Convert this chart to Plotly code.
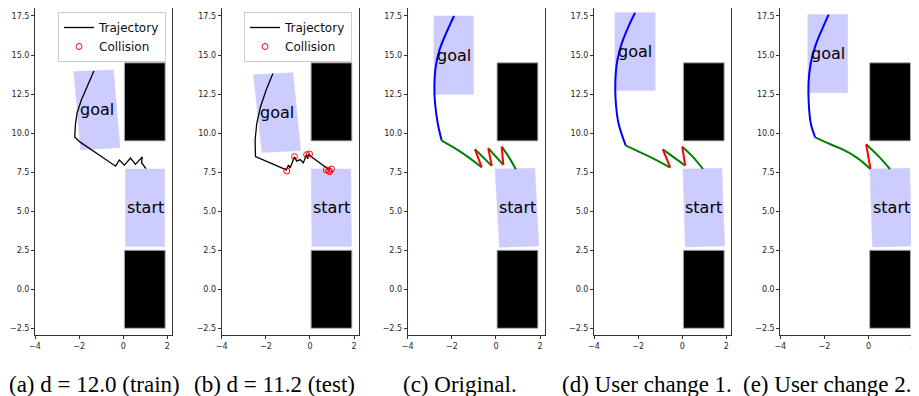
import plotly.graph_objects as go

# ---------------- data ----------------
X_TICKS = [-4, -2, 0, 2]
Y_TICKS = [-2.5, 0.0, 2.5, 5.0, 7.5, 10.0, 12.5, 15.0, 17.5]
CAPTIONS = ["(a) d = 12.0 (train)", "(b) d = 11.2 (test)", "(c) Original.",
            "(d) User change 1.", "(e) User change 2."]

# obstacles (x0, x1, y0, y1)
OBS_TOP = [0.05, 1.9, 9.5, 14.5]
OBS_BOTTOM = [0.05, 1.9, -2.5, 2.5]

# goal / start regions per panel (polygon corners)
goal_a_x = [-2.245, -0.445, -0.145, -1.93]; goal_a_y = [13.94, 14.04, 9.07, 8.92]
goal_b_x = [-2.56, -0.77, -0.42, -2.18];    goal_b_y = [13.74, 13.87, 8.88, 8.75]
goal_c_x = [-2.81, -1.02, -1.02, -2.81];    goal_c_y = [17.5, 17.5, 12.48, 12.48]
goal_d_x = [-3.05, -1.23, -1.23, -3.05];    goal_d_y = [17.71, 17.71, 12.72, 12.72]
goal_e_x = [-2.75, -0.95, -0.95, -2.75];    goal_e_y = [17.59, 17.59, 12.59, 12.59]

start_a_x = [0.1, 1.88, 1.88, 0.1];    start_a_y = [7.7, 7.7, 2.73, 2.73]
start_b_x = [0.06, 1.85, 1.88, 0.09];  start_b_y = [7.7, 7.7, 2.73, 2.73]
start_c_x = [-0.04, 1.76, 1.94, 0.16]; start_c_y = [7.7, 7.75, 2.77, 2.69]
start_d_x = [0.03, 1.80, 1.92, 0.14];  start_d_y = [7.7, 7.75, 2.77, 2.71]
start_e_x = [0.06, 1.86, 1.97, 0.18];  start_e_y = [7.7, 7.75, 2.77, 2.71]

# trajectories (a), (b)
traj_a_x = [-1.33, -1.645, -1.9, -2.095, -2.17, -2.2, -1.95, -1.075, -0.35, -0.175,
            0.05, 0.33, 0.55, 0.86, 0.83, 1.03]
traj_a_y = [13.98, 12.97, 12.12, 11.27, 10.52, 9.75, 9.42, 8.58, 7.88, 8.28,
            7.95, 8.4, 8.0, 8.47, 8.1, 7.72]
traj_b_x = [-1.68, -1.985, -2.24, -2.41, -2.485, -2.47, -1.07, -0.97, -0.9, -0.7,
            -0.6, -0.45, -0.3, -0.16, -0.1, -0.06, 0.05, 0.82, 0.7, 0.9, 0.78, 0.95]
traj_b_y = [13.81, 12.76, 11.69, 10.63, 9.56, 8.49, 7.64, 7.95, 7.76, 8.49,
            8.2, 8.3, 8.1, 8.62, 8.35, 8.66, 8.5, 7.75, 7.85, 7.62, 7.7, 7.75]
coll_b_x = [-1.05, -0.7, -0.15, -0.02, 0.74, 0.85, 0.97, 0.89]
coll_b_y = [7.57, 8.49, 8.62, 8.66, 7.64, 7.6, 7.7, 7.53]

# trajectories (c), (d), (e): blue / green / red segments
blue_c_x = [-1.9, -2.26, -2.56, -2.73, -2.79, -2.76, -2.64, -2.46]
blue_c_y = [17.5, 16.39, 15.32, 14.26, 12.97, 11.91, 10.63, 9.52]
green_c_x = [-2.46, -1.6, -0.645, None, -0.95, -0.19, None, -0.35, 0.335, None, 0.26, 0.6, 0.9]
green_c_y = [9.52, 8.8, 7.81, None, 8.96, 7.9, None, 9.03, 7.96, None, 9.13, 8.43, 7.68]
red_c_x = [-0.645, -0.95, None, -0.19, -0.35, None, 0.335, 0.26]
red_c_y = [7.81, 8.96, None, 7.9, 9.03, None, 7.96, 9.13]

blue_d_x = [-2.14, -2.44, -2.74, -2.94, -3.03, -3.02, -2.89, -2.56]
blue_d_y = [17.71, 16.82, 15.75, 14.68, 13.4, 12.12, 10.63, 9.2]
green_d_x = [-2.56, -1.53, -0.545, None, -0.88, 0.136, None, 0.0, 0.44, 0.94]
green_d_y = [9.2, 8.52, 7.79, None, 8.96, 7.92, None, 9.13, 8.54, 7.7]
red_d_x = [-0.545, -0.88, None, 0.136, 0.0]
red_d_y = [7.79, 8.96, None, 7.92, 9.13]

blue_e_x = [-1.81, -2.12, -2.42, -2.62, -2.72, -2.71, -2.62, -2.42]
blue_e_y = [17.59, 16.6, 15.54, 14.47, 13.19, 11.91, 10.63, 9.73]
green_e_x = [-2.42, -1.75, -1.13, -0.5, 0.086, None, -0.11, 0.47, 0.97]
green_e_y = [9.73, 9.3, 8.92, 8.4, 7.7, None, 9.28, 8.49, 7.7]
red_e_x = [0.086, -0.11]
red_e_y = [7.7, 9.28]

# ---------------- layout constants ----------------
# the page body has an 8px margin, so the figure starts at (8, 8) in the window
OFF = 8
W, H = 919 - OFF, 396 - OFF
LEFTS = [35 - OFF, 221.7 - OFF, 407.7 - OFF, 594 - OFF, 780.3 - OFF]
PW = 136.8
TOP, BOTTOM = 0, 335 - OFF
X_RANGE = [-4, 2.2]
Y_RANGE = [-2.93, 18.01]
CAP_CENTER = [94 - OFF, 274 - OFF, 460 - OFF, 647 - OFF, 827 - OFF]
CAP_Y = 384 - OFF

GOALS = [(goal_a_x, goal_a_y), (goal_b_x, goal_b_y), (goal_c_x, goal_c_y),
         (goal_d_x, goal_d_y), (goal_e_x, goal_e_y)]
STARTS = [(start_a_x, start_a_y), (start_b_x, start_b_y), (start_c_x, start_c_y),
          (start_d_x, start_d_y), (start_e_x, start_e_y)]

REGION_FILL = "#ccccff"
fig = go.Figure()


def ax(i):
    return ("x" if i == 0 else f"x{i+1}"), ("y" if i == 0 else f"y{i+1}")


for i in range(5):
    xr, yr = ax(i)
    for (px, py) in (GOALS[i], STARTS[i]):
        fig.add_trace(go.Scatter(x=px + [px[0]], y=py + [py[0]], mode="lines",
                                 fill="toself", fillcolor=REGION_FILL,
                                 line=dict(color=REGION_FILL, width=0.5),
                                 hoverinfo="skip", showlegend=False, xaxis=xr, yaxis=yr))
    for ob in (OBS_TOP, OBS_BOTTOM):
        fig.add_shape(type="rect", x0=ob[0], x1=ob[1], y0=ob[2], y1=ob[3],
                      xref=xr, yref=yr, fillcolor="black",
                      line=dict(color="#b0b0b0", width=1), layer="below")
    for (px, py), label in ((GOALS[i], "goal"), (STARTS[i], "start")):
        fig.add_annotation(x=sum(px) / len(px), y=sum(py) / len(py), xref=xr, yref=yr,
                           text=label, showarrow=False,
                           font=dict(family="DejaVu Sans", size=16, color="black"))

# panel (a)
fig.add_trace(go.Scatter(x=traj_a_x, y=traj_a_y, mode="lines", name="Trajectory",
                         line=dict(color="black", width=1.3), legend="legend",
                         xaxis="x", yaxis="y"))
fig.add_trace(go.Scatter(x=[None], y=[None], mode="markers", name="Collision",
                         marker=dict(symbol="circle-open", color="red", size=6,
                                     line=dict(width=1)),
                         legend="legend", xaxis="x", yaxis="y"))
# panel (b)
fig.add_trace(go.Scatter(x=traj_b_x, y=traj_b_y, mode="lines", name="Trajectory",
                         line=dict(color="black", width=1.3), legend="legend2",
                         xaxis="x2", yaxis="y2"))
fig.add_trace(go.Scatter(x=coll_b_x, y=coll_b_y, mode="markers", name="Collision",
                         marker=dict(symbol="circle-open", color="red", size=6,
                                     line=dict(width=1)),
                         legend="legend2", xaxis="x2", yaxis="y2"))

# panels (c)-(e)
SEGS = [(blue_c_x, blue_c_y, green_c_x, green_c_y, red_c_x, red_c_y),
        (blue_d_x, blue_d_y, green_d_x, green_d_y, red_d_x, red_d_y),
        (blue_e_x, blue_e_y, green_e_x, green_e_y, red_e_x, red_e_y)]
for k, (bx, by, gx, gy, rx, ry) in enumerate(SEGS):
    xr, yr = ax(k + 2)
    fig.add_trace(go.Scatter(x=bx, y=by, mode="lines", line=dict(color="#0000ff", width=2, shape="spline"),
                             showlegend=False, xaxis=xr, yaxis=yr))
    fig.add_trace(go.Scatter(x=gx, y=gy, mode="lines", line=dict(color="#008000", width=2, shape="spline"),
                             showlegend=False, xaxis=xr, yaxis=yr, connectgaps=False))
    fig.add_trace(go.Scatter(x=rx, y=ry, mode="lines", line=dict(color="#ff0000", width=2),
                             showlegend=False, xaxis=xr, yaxis=yr, connectgaps=False))

tickfont = dict(family="DejaVu Sans", size=8, color="#262626")
layout = {}
for i in range(5):
    xr, yr = ax(i)
    xname = "xaxis" if i == 0 else f"xaxis{i+1}"
    yname = "yaxis" if i == 0 else f"yaxis{i+1}"
    layout[xname] = dict(domain=[LEFTS[i] / W, (LEFTS[i] + PW) / W], range=X_RANGE,
                         anchor=yr, tickvals=X_TICKS, ticks="outside", ticklen=3,
                         tickcolor="#333", showline=True, mirror=True, linecolor="#333",
                         linewidth=1, showgrid=False, zeroline=False, tickfont=tickfont,
                         automargin=False)
    layout[yname] = dict(domain=[1 - BOTTOM / H, 1 - TOP / H], range=Y_RANGE,
                         anchor=xr, tickvals=Y_TICKS, tickformat=".1f", ticks="outside",
                         ticklen=3, tickcolor="#333", showline=True, mirror=True,
                         linecolor="#333", linewidth=1, showgrid=False, zeroline=False,
                         tickfont=tickfont, automargin=False)

legfont = dict(family="DejaVu Sans", size=12, color="#111")
LEG_TOP = 12
fig.update_layout(
    width=W, height=H, margin=dict(l=0, r=0, t=0, b=0, autoexpand=False),
    paper_bgcolor="white", plot_bgcolor="white",
    legend=dict(x=(166 - OFF) / W, y=1 - (LEG_TOP - OFF) / H, xanchor="right", yanchor="top",
                bordercolor="#cccccc", borderwidth=1, bgcolor="white", font=legfont),
    legend2=dict(x=(352 - OFF) / W, y=1 - (LEG_TOP - OFF) / H, xanchor="right", yanchor="top",
                 bordercolor="#cccccc", borderwidth=1, bgcolor="white", font=legfont),
    **layout,
)

for i, cap in enumerate(CAPTIONS):
    fig.add_annotation(x=CAP_CENTER[i] / W, y=1 - CAP_Y / H, xref="paper", yref="paper",
                       xanchor="center", yanchor="middle", text=cap, showarrow=False,
                       font=dict(family="Liberation Serif", size=23, color="black"))

fig.write_html("out.html")
